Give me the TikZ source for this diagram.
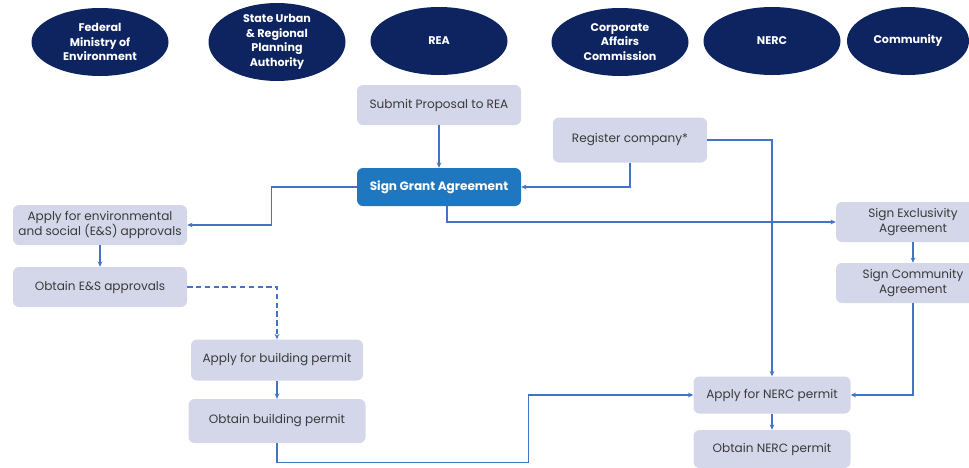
\documentclass[tikz,border=0pt]{standalone}
\usepackage{fontspec}
\setmainfont{Poppins}
\usepackage{xcolor}
\usepackage{tikz}
\usetikzlibrary{shapes.geometric, arrows.meta, positioning, calc}

\definecolor{orgnavy}{HTML}{0D2461}
\definecolor{stepfill}{HTML}{D4D7EA}
\definecolor{steptext}{HTML}{3A3A3A}
\definecolor{flowblue}{HTML}{4472C4}
\definecolor{grantblue}{HTML}{1F77BF}
\newcommand{\pxu}{0.03cm}

\begin{document}
\begin{tikzpicture}[x=0.03cm, y=-0.03cm,
        org/.style={ellipse, fill=orgnavy, text=white, align=center, inner sep=0pt,
            minimum width=137*\pxu, minimum height=68*\pxu,
            font=\fontsize{9.5}{12.5}\selectfont\bfseries},
        stepbox/.style={rectangle, rounded corners=6*\pxu, fill=stepfill, text=steptext,
            align=center, inner sep=2pt, minimum height=40*\pxu,
            font=\fontsize{10.3}{12.2}\selectfont},
        grantbox/.style={stepbox, fill=grantblue, text=white, font=\fontsize{10.3}{12.2}\selectfont\bfseries},
        flow/.style={flowblue, line width=0.9pt, -{Stealth[length=4.5pt, width=4pt]}}
    ]
        \useasboundingbox (0,0) rectangle (969,467);

        % Stakeholders
        \node[org] (fmoe) at (100,42) {Federal\\Ministry of\\Environment};
        \node[org] (surpa) at (277,42) {State Urban\\\& Regional\\Planning\\Authority};
        \node[org] (rea) at (439,41) {REA};
        \node[org] (cac) at (620,42) {Corporate\\Affairs\\Commission};
        \node[org] (nerc) at (772,41) {NERC};
        \node[org, minimum width=122*\pxu] (comm) at (908,41) {Community};

        % Steps
        \node[stepbox, minimum width=164*\pxu] (submit) at (439,105) {Submit Proposal to REA};
        \node[stepbox, minimum width=154*\pxu, minimum height=45*\pxu] (register) at (630,140) {Register company*};
        \node[grantbox, minimum width=164*\pxu, minimum height=38*\pxu] (grant) at (439,187) {Sign Grant Agreement};
        \node[stepbox, minimum width=174*\pxu] (envapp) at (100,225) {Apply for environmental\\and social (E\&S) approvals};
        \node[stepbox, minimum width=174*\pxu] (esobt) at (100,287) {Obtain E\&S approvals};
        \node[stepbox, minimum width=172*\pxu, minimum height=41*\pxu] (bldapp) at (277,360) {Apply for building permit};
        \node[stepbox, minimum width=177*\pxu, minimum height=44*\pxu] (bldobt) at (277,421) {Obtain building permit};
        \node[stepbox, minimum width=154*\pxu] (excl) at (913,222) {Sign Exclusivity\\Agreement};
        \node[stepbox, minimum width=154*\pxu] (commagr) at (913,283) {Sign Community\\Agreement};
        \node[stepbox, minimum width=157*\pxu, minimum height=37*\pxu] (nercapp) at (772,395) {Apply for NERC permit};
        \node[stepbox, minimum width=157*\pxu, minimum height=38*\pxu] (nercobt) at (772,449) {Obtain NERC permit};

        % Connectors
        \draw[flow] (submit) -- (grant);
        \draw[flow] (register.south) |- (grant.east);
        \draw[flow] (grant.west) -- ++(-85,0) |- (envapp.east);
        \draw[flow] ($(grant.south)+(8,0)$) |- (excl.west);
        \draw[flow] (register.east) -| (nercapp.north);
        \draw[flow] (envapp) -- (esobt);
        \draw[flow, dash pattern=on 4.5pt off 3pt] (esobt.east) -| (bldapp.north);
        \draw[flow] (bldapp) -- (bldobt);
        \draw[flow] (bldobt.south) -- ++(0,19) -| ($(nercapp.west)+(-165,0)$) -- (nercapp.west);
        \draw[flow] (excl) -- (commagr);
        \draw[flow] (commagr.south) |- (nercapp.east);
        \draw[flow] (nercapp) -- (nercobt);

    \end{tikzpicture}
\end{document}
